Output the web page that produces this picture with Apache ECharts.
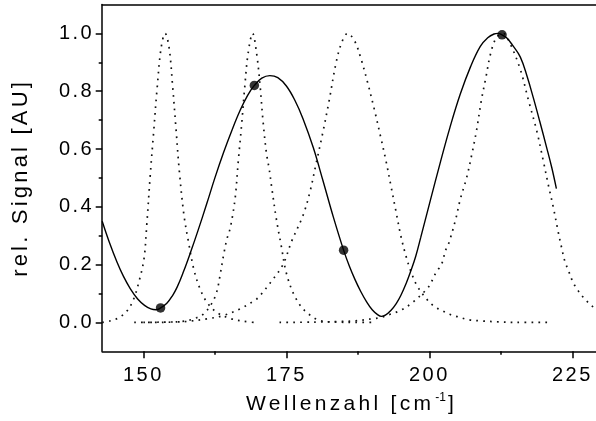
<!DOCTYPE html>
<html>
<head>
<meta charset="utf-8">
<script src="https://cdn.jsdelivr.net/npm/echarts@6/dist/echarts.min.js"></script>
<style>
  html, body { margin: 0; padding: 0; overflow: hidden; background: #fff; }
  #chart { width: 601px; height: 421px; }
</style>
</head>
<body>
<div id="chart"></div>
<script>
// Letter spacing (tracking) per font size, applied whenever a canvas font is set,
// so both drawing and text measuring use the same widened glyph advance.
const TRACKING = { 20: '2.5px', 21: '3.3px', 22: '3.2px' };
(function () {
  const proto = CanvasRenderingContext2D.prototype;
  const d = Object.getOwnPropertyDescriptor(proto, 'font');
  if (!d || !('letterSpacing' in proto)) return;
  Object.defineProperty(proto, 'font', {
    configurable: true,
    get() { return d.get.call(this); },
    set(v) {
      d.set.call(this, v);
      const m = /(\d+(?:\.\d+)?)px/.exec(v);
      this.letterSpacing = (m && TRACKING[Math.round(+m[1])]) || '0px';
    }
  });
})();

// ---- axis ranges and ticks ----
const xMin = 142.8, xMax = 230;
const yMin = -0.1, yMax = 1.1;
const xMajor = [150, 175, 200, 225];
const xMinor = [162.5, 187.5, 212.5];
const yMajor = [0.0, 0.2, 0.4, 0.6, 0.8, 1.0];
const yMinor = [0.1, 0.3, 0.5, 0.7, 0.9];

// ---- measured signal (solid curve) ----
const sigX = [142.8, 144.0, 145.4, 146.5, 147.7, 149.0, 150.2, 151.3, 152.2, 153.0,
              154.1, 155.1, 155.9, 157.0, 158.2, 159.5, 161.1, 162.5, 164.0, 165.5,
              166.9, 168.2, 169.4, 170.7, 172.1, 173.5, 175.0, 176.5, 177.9, 179.7,
              181.4, 183.2, 185.0, 186.0, 187.0, 188.0, 189.0, 190.0, 191.0, 191.6,
              192.3, 193.3, 194.2, 195.0, 196.0, 196.7, 197.6, 198.5, 200.2, 201.9,
              203.6, 205.4, 207.2, 208.9, 210.2, 211.3, 212.0, 212.7, 213.5, 214.5,
              215.9, 217.1, 218.2, 219.3, 220.5, 221.4, 222.2];
const sigY = [0.35, 0.28, 0.208, 0.16, 0.117, 0.081, 0.059, 0.047, 0.044, 0.05,
              0.066, 0.093, 0.122, 0.175, 0.24, 0.315, 0.412, 0.50, 0.587, 0.666,
              0.733, 0.785, 0.82, 0.845, 0.854, 0.847, 0.818, 0.768, 0.705, 0.605,
              0.49, 0.365, 0.25, 0.195, 0.148, 0.107, 0.072, 0.044, 0.026, 0.021,
              0.025, 0.042, 0.065, 0.093, 0.138, 0.175, 0.228, 0.295, 0.425, 0.553,
              0.675, 0.79, 0.885, 0.955, 0.985, 0.998, 1.0, 0.995, 0.985, 0.96,
              0.918, 0.85, 0.775, 0.695, 0.605, 0.535, 0.463];

// ---- sampled points on the signal ----
const markX = [153.0, 169.4, 185.0, 212.7];
const markY = [0.05, 0.82, 0.25, 0.995];

// ---- line profiles (dotted) ----
const p1X = [142.8, 144.3, 145.7, 147.2, 148.3, 149.2, 150.1, 150.6, 151.2, 151.8,
             152.4, 153.1, 153.8, 154.5, 155.1, 155.7, 156.3, 157.1, 157.9, 158.8,
             159.9, 161.1, 162.8, 165.1, 167.5, 169.3];
const p1Y = [0.0, 0.006, 0.016, 0.041, 0.081, 0.139, 0.219, 0.34, 0.51, 0.66,
             0.81, 0.95, 1.0, 0.95, 0.82, 0.67, 0.52, 0.37, 0.277, 0.185,
             0.116, 0.070, 0.035, 0.014, 0.004, 0.0];

const p2X = [148.4, 152.0, 155.0, 157.6, 159.3, 160.5, 161.9, 162.8, 163.4, 164.0,
             164.6, 165.1, 165.6, 166.1, 166.6, 167.2, 167.7, 168.3, 169.1, 169.8,
             170.4, 170.9, 171.5, 172.0, 172.4, 173.25, 174.1, 175.0, 176.4, 178.2,
             181.0, 184.0, 187.0, 190.5];
const p2Y = [0.0, 0.0, 0.001, 0.006, 0.016, 0.029, 0.064, 0.104, 0.162, 0.231,
             0.288, 0.32, 0.37, 0.44, 0.56, 0.69, 0.81, 0.93, 1.0, 0.93,
             0.82, 0.70, 0.587, 0.53, 0.472, 0.357, 0.265, 0.17, 0.093, 0.041,
             0.006, 0.001, 0.0, 0.0];

const p3X = [150.0, 156.4, 158.0, 161.1, 164.0, 166.9, 169.8, 170.7, 172.1, 174.4,
             175.9, 177.9, 179.1, 180.2, 181.4, 182.5, 183.7, 184.7, 185.7, 186.9,
             188.0, 189.2, 190.4, 191.5, 192.4, 193.3, 194.1, 195.0, 195.9, 196.7,
             197.9, 199.9, 201.1, 202.2, 203.4, 204.85, 206.9, 209.2, 212.0, 215.0,
             221.1];
const p3Y = [0.0, 0.002, 0.004, 0.012, 0.024, 0.047, 0.081, 0.10, 0.135, 0.20,
             0.28, 0.37, 0.45, 0.55, 0.66, 0.77, 0.90, 0.97, 1.0, 0.975,
             0.915, 0.83, 0.735, 0.64, 0.56, 0.47, 0.39, 0.30, 0.23, 0.18,
             0.125, 0.072, 0.052, 0.041, 0.029, 0.020, 0.009, 0.005, 0.002, 0.0,
             0.0];

const p4X = [173.8, 180.0, 184.0, 186.9, 189.8, 191.5, 193.0, 195.0, 197.0, 199.3,
             200.2, 200.8, 201.4, 202.2, 202.8, 203.4, 204.6, 205.4, 206.5, 207.4,
             208.2, 209.1, 209.9, 210.7, 211.7, 212.9, 214.1, 215.9, 217.3, 218.8,
             219.9, 220.8, 221.7, 222.5, 223.1, 223.7, 224.3, 225.1, 226.0, 226.9,
             228.0, 228.9, 230.0, 231.0];
const p4Y = [0.0, 0.001, 0.003, 0.005, 0.012, 0.017, 0.027, 0.042, 0.068, 0.110,
             0.133, 0.16, 0.179, 0.205, 0.248, 0.275, 0.357, 0.426, 0.50, 0.58,
             0.66, 0.77, 0.85, 0.93, 0.985, 1.0, 0.965, 0.875, 0.77, 0.66,
             0.56, 0.475, 0.395, 0.315, 0.26, 0.21, 0.18, 0.139, 0.110, 0.087,
             0.064, 0.050, 0.040, 0.032];

const FONT = 'Liberation Sans, Arial, sans-serif';
const INK = '#000';
const zip = (xs, ys) => xs.map((x, i) => [x, ys[i]]);

const dotted = (xs, ys) => ({
  type: 'line',
  data: zip(xs, ys),
  xAxisIndex: 0, yAxisIndex: 0,
  showSymbol: false,
  smooth: 0.35,
  silent: true,
  lineStyle: { color: '#111', width: 1.7, type: [1.7, 5.2], cap: 'butt' },
  z: 2
});

const axisLineStyle = { color: INK, width: 1.5 };
const tickStyle = { color: INK, width: 1.5 };

const chart = echarts.init(document.getElementById('chart'), null, { renderer: 'canvas' });
chart.setOption({
  animation: false,
  backgroundColor: '#fff',
  grid: { left: 100, right: 0, top: 4.5, bottom: 68, containLabel: false },
  xAxis: [
    {
      type: 'value', min: xMin, max: xMax, position: 'bottom',
      axisLine: { show: true, onZero: false, lineStyle: axisLineStyle },
      axisTick: { show: true, inside: false, length: 7, customValues: xMajor, lineStyle: tickStyle },
      axisLabel: { show: true, customValues: xMajor, margin: 13, fontSize: 20, fontFamily: FONT, color: INK },
      splitLine: { show: false },
      name: 'Wellenzahl [cm{sup|-1}]',
      nameLocation: 'middle',
      nameGap: 40,
      nameTextStyle: {
        fontSize: 21, fontFamily: FONT, color: INK,
        rich: { sup: { fontSize: 12, fontFamily: FONT, color: INK, verticalAlign: 'top', padding: [0, 2, 0, 1] } }
      }
    },
    {
      type: 'value', min: xMin, max: xMax, position: 'bottom',
      axisLine: { show: false, onZero: false },
      axisTick: { show: true, inside: false, length: 3.5, customValues: xMinor, lineStyle: tickStyle },
      axisLabel: { show: false },
      splitLine: { show: false }
    },
    {
      type: 'value', min: xMin, max: xMax, position: 'top',
      axisLine: { show: true, onZero: false, lineStyle: axisLineStyle },
      axisTick: { show: false }, axisLabel: { show: false }, splitLine: { show: false }
    }
  ],
  yAxis: [
    {
      type: 'value', min: yMin, max: yMax, position: 'left',
      axisLine: { show: true, onZero: false, lineStyle: axisLineStyle },
      axisTick: { show: true, inside: false, length: 6.5, customValues: yMajor, lineStyle: tickStyle },
      axisLabel: {
        show: true, customValues: yMajor, margin: 8, fontSize: 20, fontFamily: FONT, color: INK,
        formatter: v => v.toFixed(1)
      },
      splitLine: { show: false },
      name: 'rel. Signal [AU]',
      nameLocation: 'middle',
      nameGap: 69,
      nameRotate: 90,
      nameTextStyle: { fontSize: 22, fontFamily: FONT, color: INK }
    },
    {
      type: 'value', min: yMin, max: yMax, position: 'left',
      axisLine: { show: false, onZero: false },
      axisTick: { show: true, inside: false, length: 3.5, customValues: yMinor, lineStyle: tickStyle },
      axisLabel: { show: false },
      splitLine: { show: false }
    }
  ],
  series: [
    dotted(p1X, p1Y),
    dotted(p2X, p2Y),
    dotted(p3X, p3Y),
    dotted(p4X, p4Y),
    {
      type: 'line',
      data: zip(sigX, sigY),
      xAxisIndex: 0, yAxisIndex: 0,
      showSymbol: false,
      smooth: 0.4,
      silent: true,
      lineStyle: { color: INK, width: 1.4 },
      z: 3
    },
    {
      type: 'scatter',
      data: zip(markX, markY),
      xAxisIndex: 0, yAxisIndex: 0,
      symbol: 'circle',
      symbolSize: 9.5,
      silent: true,
      itemStyle: { color: INK },
      z: 4
    }
  ]
});
</script>
</body>
</html>
